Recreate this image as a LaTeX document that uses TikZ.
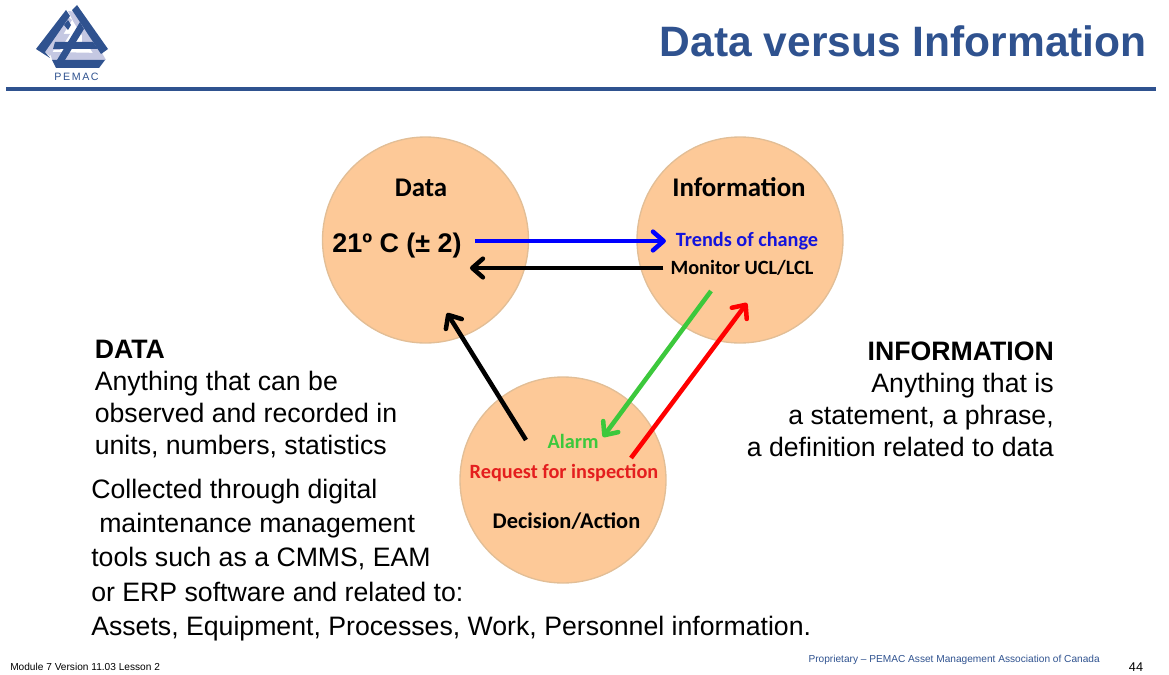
\documentclass[tikz,border=0pt]{standalone}
\usepackage{fontspec}
\setmainfont{Liberation Sans}
\newfontfamily\calfont{Carlito}
\usepackage{xcolor}
\usetikzlibrary{arrows.meta}
\usetikzlibrary{positioning}

\definecolor{pemacblue}{RGB}{47,82,143}
\definecolor{pemaclight}{RGB}{197,200,226}
\definecolor{discfill}{RGB}{253,201,152}
\definecolor{discedge}{RGB}{226,190,150}
\definecolor{alarmgreen}{RGB}{60,200,60}

\tikzset{
  disc/.style={circle,draw=discedge,line width=1pt,fill=discfill,minimum size=154.5pt,inner sep=0pt},
  disctitle/.style={inner sep=0.75pt,font=\calfont\bfseries\fontsize{20.2}{24}\selectfont},
  disctext/.style={inner sep=0.75pt,font=\calfont\bfseries\fontsize{15.2}{18}\selectfont},
  body/.style={inner sep=0.75pt,font=\fontsize{20}{24}\selectfont},
  flow/.style={line width=3.4pt,-{Straight Barb[length=8pt,width=14pt,line width=3.4pt,round]}},
}

\begin{document}
\begin{tikzpicture}[x=0.75pt,y=0.75pt,yscale=-1,xscale=1]
\useasboundingbox (0,0) rectangle (1169,674);

%Logo
\fill [pemaclight] (68,11) -- (78,12) -- (103,53) -- (96,58) -- (73,21) -- cycle;
\fill [pemaclight] (50,52) -- (102,53) -- (106,60) -- (52,60) -- cycle;
\fill [pemaclight] (72,20) -- (50,56) -- (43,50) -- (66,15) -- cycle;
\fill [pemaclight] (60,34) -- (70,34) -- (60,50) -- (52,50) -- cycle;
\fill [pemaclight] (82,28) -- (94,44) -- (82,44) -- cycle;
\fill [pemacblue] (66,10) -- (70,16) -- (45,52) -- (50,58) -- (36,49) -- cycle;
\fill [pemacblue] (77,5) -- (108,49) -- (101,54) -- (72,10) -- cycle;
\fill [pemacblue] (52,60) -- (105,60) -- (99,68) -- (56,68) -- cycle;
\fill [pemacblue] (55,42) -- (93,42) -- (98,49) -- (53,49) -- cycle;
\fill [pemacblue] (80,22) -- (84,29) -- (65,60) -- (57,60) -- cycle;
\fill [pemacblue] (68,20) -- (71,25) -- (68,30) -- (64,25) -- cycle;
\node (logotext) at (76.5,77) [inner sep=0pt,text=pemacblue,font=\fontsize{8}{9}\selectfont] {P\hspace{1.2pt}E\hspace{1.2pt}M\hspace{1.2pt}A\hspace{1.2pt}C};

%Header
\node (title) at (1147,41) [anchor=east,inner sep=0pt,text=pemacblue,font=\bfseries\fontsize{31.9}{36}\selectfont] {Data versus Information};
\draw [pemacblue,line width=3pt] (6,89) -- (1156,89);

%Shape: Circles
\node (data) at (425.5,240) [disc] {};
\node (info) at (740,240) [disc] {};
\node (action) at (563,480) [disc] {};

% Text Node
\node (datatitle) at (421,188) [disctitle] {Data};
\node (infotitle) at (739,187) [disctitle] {Information};
\node (value) at (397,246) [inner sep=6pt,font=\bfseries\fontsize{20.2}{24}\selectfont] {21º C (± 2)};
\node (trends) at (747,241) [disctext,text={rgb,255:red,20;green,20;blue,220}] {Trends of change};
\node (monitor) at (742,268) [disctext] {Monitor UCL/LCL};
\node (alarm) at (573,441) [disctext,text=alarmgreen] {Alarm};
\node (request) at (564,473) [disctext,text={rgb,255:red,228;green,30;blue,30}] {Request for inspection};
\node (decision) at (566.5,521) [inner sep=0.75pt,font=\calfont\bfseries\fontsize{16.8}{20}\selectfont] {Decision/Action};

% Text Node
\node (datadef) at (93.5,399) [body,anchor=west,align=left] {\textbf{DATA}\\Anything that can be\\observed and recorded in\\units, numbers, statistics};
\node (infodef) at (1055,399) [body,anchor=east,align=right] {\textbf{INFORMATION}\\Anything that is\\a statement, a phrase,\\a definition related to data};
\node (collected) at (90,560) [body,anchor=west,align=left,font=\fontsize{20}{25.6}\selectfont] {Collected through digital\\\hspace*{6pt}maintenance management\\tools such as a CMMS, EAM\\or ERP software and related to:\\Assets, Equipment, Processes, Work, Personnel information.};

% Text Node
\node (module) at (10,667) [anchor=west,inner sep=0pt,font=\fontsize{7.6}{10}\selectfont] {Module 7 Version 11.03 Lesson 2};
\node (owner) at (1100,660) [anchor=east,inner sep=0pt,text=pemacblue,font=\fontsize{7.6}{9}\selectfont] {Proprietary – PEMAC Asset Management Association of Canada};
\node (page) at (1136,667) [inner sep=0pt,font=\fontsize{9.5}{11}\selectfont] {44};

%Straight Lines
\coordinate (actionout) at (526,440);
\coordinate (datain) at (447,313);
\coordinate (infoout) at (711,291);
\coordinate (alarmin) at (603,437);
\coordinate (requestout) at (631,458);
\coordinate (infoin) at (747,303);
\draw [flow,blue,shorten <=3.75pt] (trends.west -| value.east) -- ([xshift=-6.5pt]trends.west);
\draw [flow,black,shorten <=4.5pt] (monitor.west) -- (monitor.west -| value.east);
\draw [flow,black] (actionout) -- (datain);
\draw [flow,alarmgreen] (infoout) -- (alarmin);
\draw [flow,red] (requestout) -- (infoin);

\end{tikzpicture}
\end{document}
